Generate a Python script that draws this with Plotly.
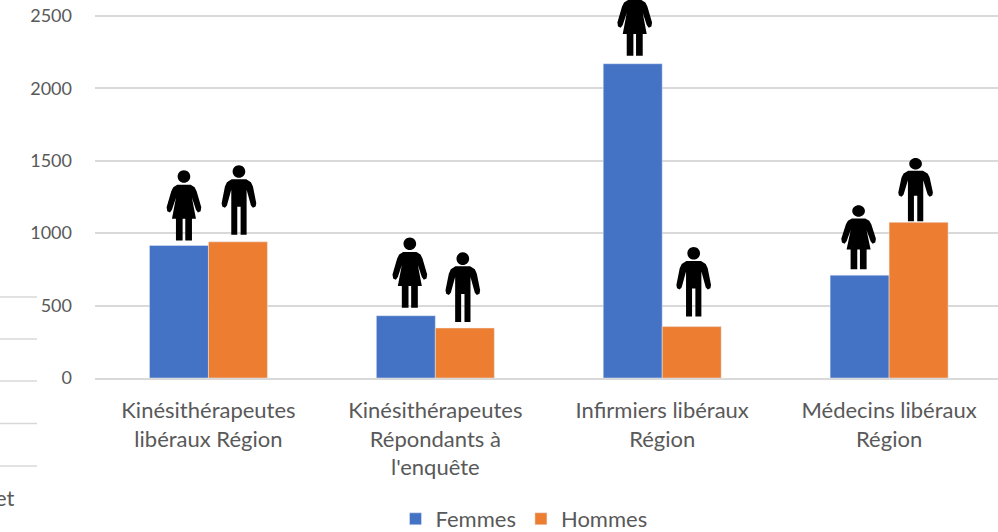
import plotly.graph_objects as go

categories = ["Kinésithérapeutes<br>libéraux Région",
              "Kinésithérapeutes<br>Répondants à<br>l'enquête",
              "Infirmiers libéraux<br>Région",
              "Médecins libéraux<br>Région"]
femmes = [915, 430, 2170, 710]
hommes = [940, 345, 355, 1075]
y_ticks = [0, 500, 1000, 1500, 2000, 2500]

# pixel offsets of each pictogram from the top-centre of its bar, and its vertical squash
f_dx = [5, 4, 2, -1]
f_lift = [5, 8, 8, 6]
h_dx = [1, -2, 2, -3]
h_lift = [7, 6, 10, 1]
icon_squash = [1, 1, 1, 0.91]

W, H = 998, 532
L, B = 95, 154
BLUE, ORANGE = "#4472C4", "#ED7D31"
GRID, TXT = "#D9D9D9", "#595959"
FONT = "Lato"
BARGAP = 0.48
BAR_OFF = (1 - BARGAP) / 4


def pt(dx, lift, sq, u, v):
    return f"{dx + u / 3:.2f},{lift + sq * v / 3:.2f}"


def head(dx, lift, sq, cv, r):
    k = r * 0.5523
    p = lambda u, v: pt(dx, lift, sq, u, v)
    return (f"M{p(r, cv)}C{p(r, cv + k)} {p(k, cv + r)} {p(0, cv + r)}"
            f"C{p(-k, cv + r)} {p(-r, cv + k)} {p(-r, cv)}"
            f"C{p(-r, cv - k)} {p(-k, cv - r)} {p(0, cv - r)}"
            f"C{p(k, cv - r)} {p(r, cv - k)} {p(r, cv)}Z")


def poly(dx, lift, sq, pts):
    return "M" + "L".join(pt(dx, lift, sq, u, v) for u, v in pts) + "Z"


def side(half):
    return half + [(-u, v) for u, v in reversed(half)]


def woman(dx, lift, sq):
    half = [(0, 167), (20, 167), (32, 160), (38, 148), (52, 100), (50, 88), (42, 84), (36, 92), (24, 128),
            (36, 65), (24, 65), (24, 0), (4, 0), (4, 65)]
    return head(dx, lift, sq, 192, 19) + poly(dx, lift, sq, side(half))


def man(dx, lift, sq):
    half = [(0, 167), (22, 167), (36, 158), (42, 145), (52, 95), (50, 85), (42, 81), (36, 88), (23, 135),
            (23, 0), (5, 0), (5, 84)]
    return head(dx, lift, sq, 190, 19) + poly(dx, lift, sq, side(half))


fig = go.Figure()
fig.add_bar(name="Femmes", x=categories, y=femmes, marker_color=BLUE)
fig.add_bar(name="Hommes", x=categories, y=hommes, marker_color=ORANGE)

shapes = []
for i in range(len(categories)):
    sq = icon_squash[i]
    for vals, off, path in ((femmes, -BAR_OFF, woman(f_dx[i], f_lift[i], sq)),
                            (hommes, BAR_OFF, man(h_dx[i], h_lift[i], sq))):
        shapes.append(dict(type="path", xref="x", yref="y", xsizemode="pixel", ysizemode="pixel",
                           xanchor=i + off, yanchor=vals[i], path=path,
                           fillcolor="black", line_width=0, layer="above"))

# fragments of the neighbouring chart at the left edge
plot_w, plot_h = W - L, H - B
for py in (297, 339, 381, 423.5, 466):
    yp = (H - B - py) / plot_h
    shapes.append(dict(type="line", xref="paper", yref="paper", x0=-L / plot_w, x1=(37 - L) / plot_w,
                       y0=yp, y1=yp, line=dict(color=GRID, width=1.5)))

fig.update_layout(
    width=W, height=H, autosize=False,
    margin=dict(l=L, r=0, t=0, b=B, autoexpand=False),
    paper_bgcolor="white", plot_bgcolor="white",
    barmode="group", bargap=BARGAP, bargroupgap=0,
    font=dict(family=FONT, size=22, color=TXT),
    shapes=shapes,
    showlegend=True,
    legend=dict(orientation="h", x=(524 - L) / plot_w, xanchor="center",
                y=-(519 - 378) / plot_h, yanchor="middle",
                font=dict(family=FONT, size=22, color=TXT), itemwidth=30, tracegroupgap=0),
    annotations=[dict(text="et", xref="paper", yref="paper", x=-L / plot_w, xanchor="left", xshift=-7,
                      y=-(497 - 378) / plot_h, yanchor="middle", showarrow=False,
                      font=dict(family=FONT, size=22, color=TXT))],
)
fig.update_xaxes(range=[-0.5, 3.48], showgrid=False, showline=True, linecolor=GRID, linewidth=1.5,
                 ticks="", ticklabelstandoff=12, tickangle=0, zeroline=False, automargin=False,
                 tickfont=dict(family=FONT, size=22, color=TXT))
fig.update_yaxes(range=[0, 2610], tickvals=y_ticks, showgrid=True, gridcolor=GRID, gridwidth=1.5,
                 showline=False, zeroline=False, ticks="", ticklabelstandoff=22, automargin=False,
                 tickfont=dict(family=FONT, size=18, color=TXT))

# the page's default body margin would shift the 998x532 figure out of the window
fig.write_html("out.html", config={"displayModeBar": False},
               post_script="document.body.style.margin='0';document.body.style.overflow='hidden';")
